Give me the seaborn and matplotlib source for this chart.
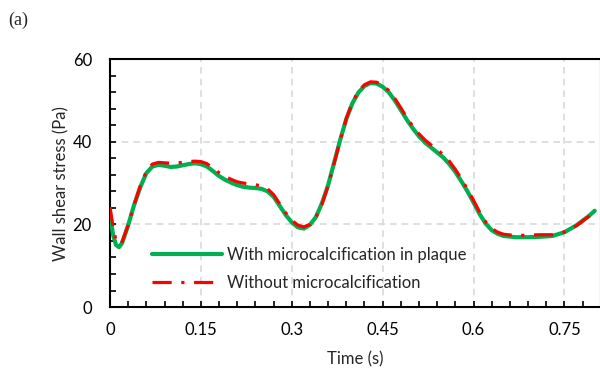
import numpy as np
import pandas as pd
import matplotlib
matplotlib.use("Agg")
import matplotlib.pyplot as plt
import seaborn as sns

# Time points (s)
time = [0.0, 0.005, 0.01, 0.015, 0.02, 0.03, 0.04, 0.05, 0.06, 0.07, 0.08, 0.09,
        0.10, 0.11, 0.12, 0.13, 0.14, 0.15, 0.16, 0.17, 0.18, 0.19, 0.20, 0.21,
        0.22, 0.23, 0.24, 0.25, 0.26, 0.27, 0.28, 0.29, 0.30, 0.31, 0.32, 0.33,
        0.34, 0.35, 0.36, 0.37, 0.38, 0.39, 0.40, 0.41, 0.42, 0.43, 0.44, 0.45,
        0.46, 0.47, 0.48, 0.49, 0.50, 0.51, 0.52, 0.53, 0.54, 0.55, 0.56, 0.57,
        0.58, 0.59, 0.60, 0.61, 0.62, 0.63, 0.64, 0.65, 0.67, 0.69, 0.71, 0.73,
        0.75, 0.77, 0.79, 0.80]

# Wall shear stress (Pa), with microcalcification in plaque
wss_with = [22.7, 17.5, 15.0, 14.5, 15.5, 19.8, 24.8, 29.0, 32.4, 34.0, 34.4, 34.2,
            33.9, 34.0, 34.3, 34.6, 34.8, 34.6, 34.0, 32.9, 31.7, 30.8, 30.1, 29.5,
            29.1, 28.9, 28.8, 28.6, 28.0, 26.7, 24.5, 22.3, 20.5, 19.3, 19.0, 19.9,
            21.8, 25.2, 29.5, 35.0, 40.5, 45.5, 49.3, 51.9, 53.5, 54.2, 54.1, 53.3,
            52.0, 50.0, 47.7, 45.3, 43.2, 41.3, 39.8, 38.6, 37.4, 36.2, 34.6, 32.7,
            30.4, 28.0, 25.3, 22.5, 20.2, 18.6, 17.7, 17.2, 16.9, 16.9, 17.0, 17.2,
            18.1, 19.8, 22.0, 23.3]

# Wall shear stress (Pa), without microcalcification
wss_without = [24.2, 19.5, 16.0, 15.2, 15.8, 19.8, 24.8, 29.3, 32.8, 34.6, 35.0, 34.9,
               34.8, 34.9, 35.0, 35.2, 35.3, 35.2, 34.7, 33.6, 32.5, 31.6, 30.9, 30.3,
               30.0, 29.8, 29.6, 29.3, 28.6, 27.2, 25.0, 22.8, 21.0, 19.8, 19.4, 20.0,
               21.8, 25.0, 29.3, 34.8, 40.4, 45.6, 49.5, 52.2, 53.8, 54.5, 54.4, 53.7,
               52.4, 50.5, 48.2, 45.8, 43.7, 41.9, 40.4, 39.2, 38.1, 36.9, 35.3, 33.3,
               31.0, 28.5, 25.8, 23.0, 20.6, 19.0, 18.1, 17.6, 17.3, 17.4, 17.5, 17.5,
               18.2, 19.7, 21.9, 23.2]

x_ticks = [0, 0.15, 0.3, 0.45, 0.6, 0.75]
x_ticklabels = ["0", "0.15", "0.3", "0.45", "0.6", "0.75"]
y_ticks = [0, 20, 40, 60]

sns.set_style("ticks")
plt.rcParams['font.family'] = ['Lato', 'DejaVu Sans']

fig = plt.figure(figsize=(6.0, 3.74), dpi=100)
ax = fig.add_axes([0.1833, 0.179, 0.818, 0.663])

sns.lineplot(x=time, y=wss_with, ax=ax, color="#00B050", linewidth=3.0,
             label="With microcalcification in plaque", zorder=3)
sns.lineplot(x=time, y=wss_without, ax=ax, color="#FF0000", linewidth=2.3,
             linestyle=(0, (6, 3, 1, 3)), label="Without microcalcification", zorder=4)

ax.set_xlim(0, 0.8)
ax.set_ylim(0, 60)
ax.set_xticks(x_ticks)
ax.set_xticklabels(x_ticklabels)
ax.set_yticks(y_ticks)
ax.set_xticks(np.arange(0, 0.81, 0.03), minor=True)
ax.set_yticks(np.arange(0, 61, 4), minor=True)

ax.grid(True, which="major", color="#D9D9D9", linestyle=(0, (4, 3)), linewidth=1.2)
ax.set_axisbelow(True)
ax.tick_params(which="both", direction="in", length=4, width=1.2, colors="black",
               labelsize=12, top=False, right=False)
ax.tick_params(axis="x", pad=11)
ax.tick_params(axis="y", pad=13)
for side in ["left", "bottom", "top", "right"]:
    ax.spines[side].set_color("black")
    ax.spines[side].set_linewidth(1.5)

ax.set_xlabel("Time (s)", fontsize=12, labelpad=9)
ax.set_ylabel("Wall shear stress (Pa)", fontsize=12, labelpad=2)

leg = ax.legend(loc="lower left", bbox_to_anchor=(0.056, 0.005), frameon=False,
                fontsize=12, handlelength=4.2, handletextpad=0.3, labelspacing=0.7)

fig.text(0.013, 0.945, "(a)", fontsize=13, family="Liberation Serif", va="center")

fig.savefig("out.png", dpi=100)
